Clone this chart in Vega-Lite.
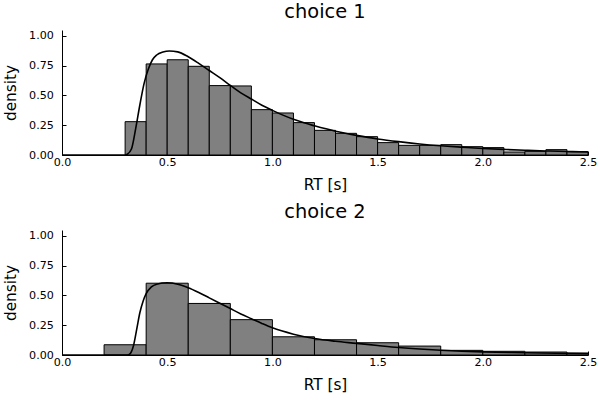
{
  "$schema": "https://vega.github.io/schema/vega-lite/v6.json",
  "description": "RT histograms with fitted densities for two choices",
  "background": "white",
  "padding": {"left": 3, "top": 1, "right": 5, "bottom": 5},
  "bounds": "flush",
  "spacing": 75,
  "config": {
    "font": "DejaVu Sans",
    "view": {"stroke": null},
    "axis": {
      "grid": false,
      "domainColor": "black",
      "tickColor": "black",
      "labelColor": "black",
      "titleColor": "black",
      "labelFont": "DejaVu Sans",
      "titleFont": "DejaVu Sans",
      "labelFontSize": 11.1,
      "titleFontSize": 15.3,
      "titleFontWeight": "normal",
      "labelOverlap": false,
      "labelFlush": false,
      "tickSize": -4
    },
    "title": {"fontSize": 19.4, "fontWeight": "normal", "color": "black", "baseline": "alphabetic", "offset": 8}
  },
  "datasets": {
    "hist1": [
      {"x0": 0.3, "x1": 0.4, "density": 0.28},
      {"x0": 0.4, "x1": 0.5, "density": 0.765},
      {"x0": 0.5, "x1": 0.6, "density": 0.8},
      {"x0": 0.6, "x1": 0.7, "density": 0.745},
      {"x0": 0.7, "x1": 0.8, "density": 0.583},
      {"x0": 0.8, "x1": 0.9, "density": 0.58},
      {"x0": 0.9, "x1": 1.0, "density": 0.381},
      {"x0": 1.0, "x1": 1.1, "density": 0.353},
      {"x0": 1.1, "x1": 1.2, "density": 0.272},
      {"x0": 1.2, "x1": 1.3, "density": 0.207},
      {"x0": 1.3, "x1": 1.4, "density": 0.182},
      {"x0": 1.4, "x1": 1.5, "density": 0.154},
      {"x0": 1.5, "x1": 1.6, "density": 0.104},
      {"x0": 1.6, "x1": 1.7, "density": 0.081},
      {"x0": 1.7, "x1": 1.8, "density": 0.081},
      {"x0": 1.8, "x1": 1.9, "density": 0.087},
      {"x0": 1.9, "x1": 2.0, "density": 0.07},
      {"x0": 2.0, "x1": 2.1, "density": 0.062},
      {"x0": 2.1, "x1": 2.2, "density": 0.025},
      {"x0": 2.2, "x1": 2.3, "density": 0.031},
      {"x0": 2.3, "x1": 2.4, "density": 0.045},
      {"x0": 2.4, "x1": 2.5, "density": 0.028}
    ],
    "hist2": [
      {"x0": 0.2, "x1": 0.4, "density": 0.086},
      {"x0": 0.4, "x1": 0.6, "density": 0.603},
      {"x0": 0.6, "x1": 0.8, "density": 0.433},
      {"x0": 0.8, "x1": 1.0, "density": 0.297},
      {"x0": 1.0, "x1": 1.2, "density": 0.153},
      {"x0": 1.2, "x1": 1.4, "density": 0.128},
      {"x0": 1.4, "x1": 1.6, "density": 0.103},
      {"x0": 1.6, "x1": 1.8, "density": 0.075},
      {"x0": 1.8, "x1": 2.0, "density": 0.039},
      {"x0": 2.0, "x1": 2.2, "density": 0.031},
      {"x0": 2.2, "x1": 2.4, "density": 0.025},
      {"x0": 2.4, "x1": 2.6, "density": 0.017}
    ],
    "curve1": [
      {"rt": 0.0, "density": 0}, {"rt": 0.3, "density": 0}, {"rt": 0.31, "density": 0.006},
      {"rt": 0.33, "density": 0.05}, {"rt": 0.35, "density": 0.22}, {"rt": 0.37, "density": 0.42},
      {"rt": 0.39, "density": 0.6}, {"rt": 0.41, "density": 0.72}, {"rt": 0.43, "density": 0.8},
      {"rt": 0.45, "density": 0.84}, {"rt": 0.48, "density": 0.865}, {"rt": 0.51, "density": 0.874},
      {"rt": 0.55, "density": 0.866}, {"rt": 0.6, "density": 0.825}, {"rt": 0.65, "density": 0.77},
      {"rt": 0.7, "density": 0.71}, {"rt": 0.75, "density": 0.65}, {"rt": 0.8, "density": 0.585},
      {"rt": 0.85, "density": 0.522}, {"rt": 0.9, "density": 0.47}, {"rt": 0.95, "density": 0.418},
      {"rt": 1.0, "density": 0.375}, {"rt": 1.05, "density": 0.335}, {"rt": 1.1, "density": 0.3},
      {"rt": 1.15, "density": 0.27}, {"rt": 1.2, "density": 0.245}, {"rt": 1.3, "density": 0.2},
      {"rt": 1.4, "density": 0.165}, {"rt": 1.5, "density": 0.135}, {"rt": 1.6, "density": 0.112},
      {"rt": 1.7, "density": 0.093}, {"rt": 1.8, "density": 0.078}, {"rt": 1.9, "density": 0.066},
      {"rt": 2.0, "density": 0.055}, {"rt": 2.1, "density": 0.047}, {"rt": 2.2, "density": 0.04},
      {"rt": 2.3, "density": 0.034}, {"rt": 2.4, "density": 0.029}, {"rt": 2.5, "density": 0.025}
    ],
    "curve2": [
      {"rt": 0.0, "density": 0}, {"rt": 0.31, "density": 0}, {"rt": 0.32, "density": 0.005},
      {"rt": 0.34, "density": 0.08}, {"rt": 0.355, "density": 0.215}, {"rt": 0.37, "density": 0.355},
      {"rt": 0.385, "density": 0.45}, {"rt": 0.4, "density": 0.515}, {"rt": 0.425, "density": 0.572},
      {"rt": 0.45, "density": 0.595}, {"rt": 0.5, "density": 0.607}, {"rt": 0.55, "density": 0.595},
      {"rt": 0.6, "density": 0.565}, {"rt": 0.65, "density": 0.525}, {"rt": 0.7, "density": 0.48},
      {"rt": 0.75, "density": 0.435}, {"rt": 0.8, "density": 0.39}, {"rt": 0.85, "density": 0.345},
      {"rt": 0.9, "density": 0.305}, {"rt": 0.95, "density": 0.265}, {"rt": 1.0, "density": 0.228},
      {"rt": 1.1, "density": 0.175}, {"rt": 1.2, "density": 0.138}, {"rt": 1.3, "density": 0.115},
      {"rt": 1.4, "density": 0.098}, {"rt": 1.5, "density": 0.08}, {"rt": 1.6, "density": 0.063},
      {"rt": 1.7, "density": 0.05}, {"rt": 1.8, "density": 0.04}, {"rt": 1.9, "density": 0.032},
      {"rt": 2.0, "density": 0.026}, {"rt": 2.2, "density": 0.019}, {"rt": 2.5, "density": 0.011}
    ]
  },
  "vconcat": [
    {
      "title": "choice 1",
      "width": 526,
      "height": 125,
      "layer": [
        {
          "data": {"name": "hist1"},
          "mark": {"type": "rect", "color": "#808080", "stroke": "black", "strokeWidth": 1, "clip": true},
          "encoding": {
            "x": {"field": "x0", "type": "quantitative", "scale": {"domain": [0, 2.5], "nice": false},
              "axis": {"title": "RT [s]", "values": [0, 0.5, 1, 1.5, 2, 2.5], "tickCount": 20, "format": ".1f", "labelPadding": 5, "titlePadding": 10, "labelOverlap": false}},
            "x2": {"field": "x1"},
            "y": {"field": "density", "type": "quantitative", "scale": {"domain": [0, 1.05], "nice": false},
              "axis": {"title": "density", "values": [0, 0.25, 0.5, 0.75, 1], "tickCount": 20, "format": ".2f", "labelPadding": 12.7, "titlePadding": 10, "labelOverlap": false}},
            "y2": {"datum": 0}
          }
        },
        {
          "data": {"name": "curve1"},
          "mark": {"type": "line", "color": "black", "strokeWidth": 1.6, "interpolate": "monotone", "clip": true},
          "encoding": {
            "x": {"field": "rt", "type": "quantitative"},
            "y": {"field": "density", "type": "quantitative"}
          }
        }
      ]
    },
    {
      "title": "choice 2",
      "width": 526,
      "height": 125,
      "layer": [
        {
          "data": {"name": "hist2"},
          "mark": {"type": "rect", "color": "#808080", "stroke": "black", "strokeWidth": 1, "clip": true},
          "encoding": {
            "x": {"field": "x0", "type": "quantitative", "scale": {"domain": [0, 2.5], "nice": false},
              "axis": {"title": "RT [s]", "values": [0, 0.5, 1, 1.5, 2, 2.5], "tickCount": 20, "format": ".1f", "labelPadding": 5, "titlePadding": 10, "labelOverlap": false}},
            "x2": {"field": "x1"},
            "y": {"field": "density", "type": "quantitative", "scale": {"domain": [0, 1.05], "nice": false},
              "axis": {"title": "density", "values": [0, 0.25, 0.5, 0.75, 1], "tickCount": 20, "format": ".2f", "labelPadding": 12.7, "titlePadding": 10, "labelOverlap": false}},
            "y2": {"datum": 0}
          }
        },
        {
          "data": {"name": "curve2"},
          "mark": {"type": "line", "color": "black", "strokeWidth": 1.6, "interpolate": "monotone", "clip": true},
          "encoding": {
            "x": {"field": "rt", "type": "quantitative"},
            "y": {"field": "density", "type": "quantitative"}
          }
        }
      ]
    }
  ]
}
